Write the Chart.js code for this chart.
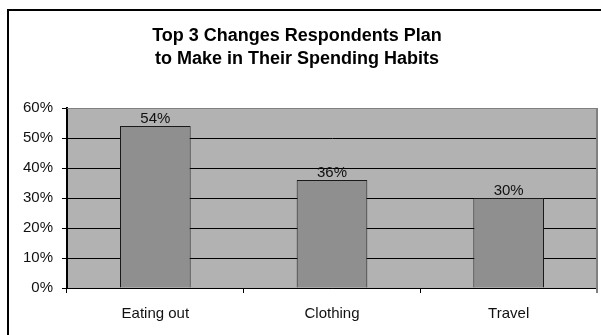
<!DOCTYPE html>
<html>
<head>
<meta charset="utf-8">
<script src="https://cdn.jsdelivr.net/npm/chart.js@4/dist/chart.umd.min.js"></script>
<style>
  html, body { margin: 0; padding: 0; background: #ffffff; }
  #wrap { width: 601px; height: 335px; position: relative; }
</style>
</head>
<body>
<div id="wrap"><canvas id="c" width="601" height="335"></canvas></div>
<script>
const titleLines = ["Top 3 Changes Respondents Plan", "to Make in Their Spending Habits"];
const categories = ["Eating out", "Clothing", "Travel"];
const values = [54, 36, 30];
const yTicks = [0, 10, 20, 30, 40, 50, 60];

const FONT = "Arial, 'Liberation Sans', sans-serif";

const framePlugin = {
  id: 'frame',
  beforeDraw(chart) {
    const ctx = chart.ctx;
    ctx.save();
    ctx.fillStyle = '#ffffff';
    ctx.fillRect(0, 0, chart.width, chart.height);
    ctx.strokeStyle = '#000000';
    ctx.lineWidth = 2;
    ctx.strokeRect(8, 10, chart.width + 20, chart.height + 20);
    const a = chart.chartArea;
    ctx.fillStyle = '#b2b2b2';
    ctx.fillRect(a.left, a.top, a.right - a.left, a.bottom - a.top);
    // title
    ctx.fillStyle = '#000000';
    ctx.font = "bold 18px " + FONT;
    ctx.textAlign = 'center';
    ctx.textBaseline = 'alphabetic';
    ctx.fillText(titleLines[0], 297, 41);
    ctx.fillText(titleLines[1], 297, 64);
    ctx.restore();
  },
  beforeDatasetsDraw(chart) {
    const ctx = chart.ctx;
    const a = chart.chartArea;
    ctx.save();
    ctx.strokeStyle = '#808080';
    ctx.lineWidth = 1;
    ctx.beginPath();
    ctx.moveTo(a.left, a.top + 0.5);
    ctx.lineTo(a.right, a.top + 0.5);
    ctx.stroke();
    ctx.lineWidth = 2;
    ctx.beginPath();
    ctx.moveTo(a.right, a.top);
    ctx.lineTo(a.right, a.bottom + 5);
    ctx.stroke();
    ctx.restore();
  }
};

const labelPlugin = {
  id: 'barLabels',
  afterDatasetsDraw(chart) {
    const ctx = chart.ctx;
    const meta = chart.getDatasetMeta(0);
    ctx.save();
    ctx.font = "15px " + FONT;
    ctx.fillStyle = '#111111';
    ctx.textAlign = 'center';
    ctx.textBaseline = 'alphabetic';
    meta.data.forEach((bar, i) => {
      ctx.fillText(values[i] + '%', bar.x, bar.y - 3);
    });
    ctx.restore();
  }
};

new Chart(document.getElementById('c'), {
  type: 'bar',
  data: {
    labels: categories,
    datasets: [{
      data: values,
      backgroundColor: '#8f8f8f',
      borderColor: '#1a1a1a',
      borderWidth: 1,
      borderSkipped: 'bottom',
      categoryPercentage: 0.4,
      barPercentage: 1.0
    }]
  },
  options: {
    responsive: false,
    animation: false,
    devicePixelRatio: 1,
    layout: { padding: { left: 8, right: 4, top: 108, bottom: 0 } },
    plugins: {
      legend: { display: false },
      tooltip: { enabled: false },
      title: { display: false }
    },
    scales: {
      x: {
        offset: true,
        grid: {
          offset: true,
          drawOnChartArea: false,
          drawTicks: true,
          tickLength: 5,
          color: '#000000',
          lineWidth: 1
        },
        border: { display: true, color: '#000000', width: 1 },
        ticks: {
          color: '#111111',
          font: { family: FONT, size: 15 },
          padding: 12,
          maxRotation: 0
        },
        afterFit(scale) { scale.height = 47; }
      },
      y: {
        min: 0,
        max: 60,
        afterBuildTicks(scale) { scale.ticks = yTicks.map(v => ({ value: v })); },
        grid: {
          color: '#000000',
          lineWidth: 1,
          drawTicks: true,
          tickLength: 5
        },
        border: { display: true, color: '#000000', width: 2 },
        ticks: {
          color: '#111111',
          font: { family: FONT, size: 15 },
          padding: 9,
          callback: (v) => v + '%'
        },
        afterFit(scale) { scale.width = 59; }
      }
    }
  },
  plugins: [framePlugin, labelPlugin]
});
</script>
</body>
</html>
